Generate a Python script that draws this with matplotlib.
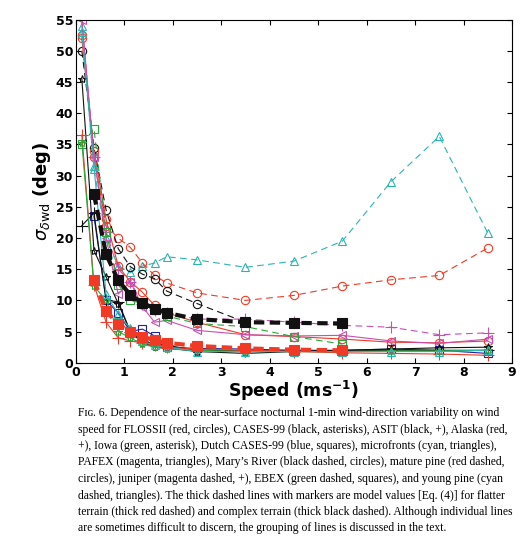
import matplotlib
matplotlib.use("Agg")
import matplotlib.pyplot as plt
import numpy as np

xs = [0.125,0.375,0.625,0.875,1.125,1.375,1.625,1.875,2.5,3.5,4.5,5.5,6.5,7.5,8.5]
young_pine = [54,31,20,15.5,14.5,15.5,16,17,16.5,15.3,16.3,19.5,29,36.3,20.8]
mature_pine = [52.5,33,22,20,18.5,16,14,12.8,11.2,10,10.8,12.3,13.3,14,18.4]
marys_river = [50,34.5,24.5,18.3,15.4,14.2,13.5,11.5,9.5,6.5]
flossii = [52,34,23,15.5,13,11.3,9.2,8,6.5,4.5,4.2,3.8,3.3,3.2,3.5]
juniper = [55,33,21,15,13,9.5,8.5,8,7,7,6.5,6,5.7,4.5,4.8]
pafex = [55,33,20,11,13,9,6.5,6.8,5.2,4.5,4.3,4.4,3.5,3.1,3.8]
ebex = [35,37.5,21,12.5,10,9.5,8.5,7.5,6.3,5.8,4.2,3.0]
xd = xs[1:]
dutch = [23.5,10,8,5,5.4,4.3,2.5,2.3,2.2,2,2,2.2,2.0,1.5]
cases99 = [45.5,18,13.8,9.5,5,3.2,2.6,2.4,1.8,1.5,1.8,2.0,2.2,2.4,2.5]
asit = [22,24,10,9.8,5,3.5,3,2.8,2.0,1.9,1.9,1.9,2.0,2.0,2.0]
alaska = [36.5,12.5,6.5,4,3.5,3.2,2.8,2.5,2.2,2,1.8,1.6,1.5,1.4,1.2]
iowa = [35.3,12.3,10,5,4,3,2.5,2.2,2,1.8,1.8,1.8,1.9,1.9,2.0]
microfronts = [53,31.5,11,7.8,5.5,3.5,2.8,2.5,1.8,1.8,1.8,1.8,1.8,1.8,2.0]
xm = [0.375,0.625,0.875,1.125,1.375,1.625,1.875,2.5,3.5,4.5,5.5]
model_complex = [27,17.4,13.2,10.9,9.6,8.7,8,7,6.5,6.4,6.3]
model_flat = [13.2,8.3,6.2,5,4.2,3.6,3.2,2.7,2.3,2.1,2.0]

red='#f03a25'; cyan='#2ab5b0'; mag='#c84fb0'; green='#2aa53a'; blue='#20209a'; blk='#111111'

fig = plt.figure(figsize=(5.3,5.48), dpi=100)
ax = fig.add_axes([0.143,0.338,0.823,0.626])
def p(x,y,c,m,ls='-',lw=0.8,ms=6,fill=False,dash=(6,4)):
    line, = ax.plot(x[:len(y)], y, color=c, marker=m, ls=ls, lw=lw, ms=ms,
            mfc=(c if fill else 'none'), mec=c, mew=0.8)
    if ls=='--':
        line.set_dashes(dash)
p(xs,young_pine,cyan,'^','--')
p(xs,mature_pine,red,'o','--')
p(xs,marys_river,blk,'o','--')
p(xs,flossii,red,'o')
p(xs,juniper,mag,'+','--',ms=8)
p(xs,pafex,mag,'<')
p(xs,ebex,green,'s','--')
p(xd,dutch,blue,'s')
p(xs,cases99,blk,'*')
p(xs,asit,blk,'+',ms=8)
p(xs,alaska,red,'+',ms=8)
p(xs,iowa,green,'*')
p(xs,microfronts,cyan,'^')
p(xm,model_complex,blk,'s','--',lw=3,ms=7,fill=True,dash=(2.5,1.3))
p(xm,model_flat,red,'s','--',lw=3,ms=7,fill=True,dash=(2.5,1.3))

ax.set_xlim(0,9); ax.set_ylim(0,55)
ax.set_xticks(range(10)); ax.set_yticks(range(0,56,5))
ax.tick_params(direction='in', top=True, right=True, labelsize=9, pad=2)
for t in ax.get_xticklabels()+ax.get_yticklabels(): t.set_fontweight('bold')
ax.set_xlabel('Speed (ms$^{\\mathbf{-1}}$)', fontsize=12.5, fontweight='bold', labelpad=0)
ax.set_ylabel(r'$\sigma_{\delta \mathrm{wd}}$ (deg)', fontsize=13, fontweight='bold', labelpad=2)

lines = [
"Fɪɢ. 6. Dependence of the near-surface nocturnal 1-min wind-direction variability on wind",
"speed for FLOSSII (red, circles), CASES-99 (black, asterisks), ASIT (black, +), Alaska (red,",
"+), Iowa (green, asterisk), Dutch CASES-99 (blue, squares), microfronts (cyan, triangles),",
"PAFEX (magenta, triangles), Mary’s River (black dashed, circles), mature pine (red dashed,",
"circles), juniper (magenta dashed, +), EBEX (green dashed, squares), and young pine (cyan",
"dashed, triangles). The thick dashed lines with markers are model values [Eq. (4)] for flatter",
"terrain (thick red dashed) and complex terrain (thick black dashed). Although individual lines",
"are sometimes difficult to discern, the grouping of lines is discussed in the text."]
for i,l in enumerate(lines):
    fig.text(78/530, 1-(413+i*16.5)/548, l, fontsize=8.4, family=['Liberation Serif','DejaVu Serif'], va='center', ha='left')
fig.savefig('out.png', dpi=100)
